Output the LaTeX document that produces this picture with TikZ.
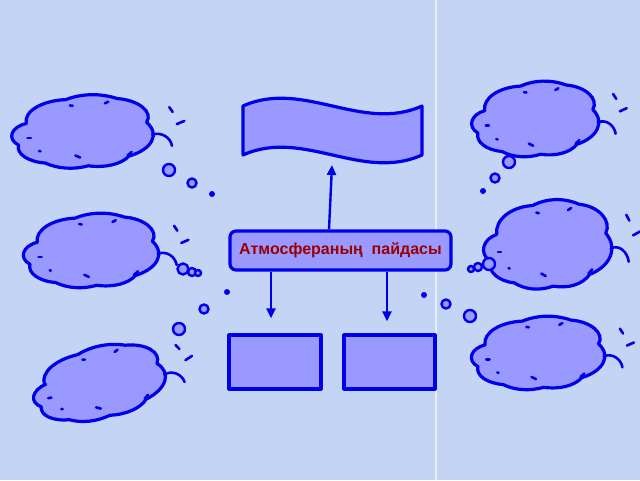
\documentclass[tikz,border=0pt]{standalone}
\usepackage{fontspec}
\setmainfont{Liberation Sans}
\usetikzlibrary{arrows.meta}
\definecolor{bg}{RGB}{196,212,245}
\definecolor{edge}{RGB}{0,0,235}
\definecolor{puff}{RGB}{153,153,255}
\definecolor{title}{RGB}{153,0,0}
\tikzset{
  boxline/.style={draw=edge, fill=puff, line width=3.2pt, line join=round},
  plainbox/.style={boxline, rectangle, inner sep=0pt},
  mainbox/.style={boxline, rectangle, rounded corners=6pt, minimum width=221, minimum height=39, text=title, font=\fontsize{16}{19}\selectfont\bfseries},
  arrowline/.style={edge, line width=2.4pt, -{Triangle[length=10pt, width=9pt]}},
  bubble/.style={circle, draw=edge, fill=puff, line width=2.4pt, inner sep=0pt},
  dot/.style={circle, fill=edge, inner sep=0pt},
  mark line/.style={edge, line width=2.6pt, line cap=round},
  thought/.pic={
    \draw[boxline] (-0.86,-0.25) to[bend left=45] (-0.28,-0.94) to[bend left=35] (0.47,-0.97)
      to[bend left=50] (0.90,-0.28) to[bend left=45] (0.64,0.70) to[bend left=40] (0.05,0.98)
      to[bend left=35] (-0.58,0.90) to[bend left=45] (-0.97,0.38) to[bend left=55] cycle;
    % tail and little marks
    \draw[mark line] (0.98,0.08) .. controls (1.12,-0.02) and (1.25,0.17) .. (1.27,0.40);
    \draw[mark line] (1.23,-0.72) -- (1.28,-0.58);
    \draw[mark line] (1.34,-0.23) -- (1.45,-0.32);
    \draw[mark line] (-0.22,-0.77) -- (-0.18,-0.76);
    \draw[mark line] (0.29,-0.83) -- (0.34,-0.88);
    \draw[mark line] (-0.84,0.17) -- (-0.79,0.17);
    \draw[mark line] (-0.67,0.55) -- (-0.65,0.56);
    \draw[mark line] (-0.14,0.68) -- (-0.07,0.74);
    \draw[mark line] (0.62,0.68) -- (0.68,0.58);
  }
}
\begin{document}
\begin{tikzpicture}[x=1pt, y=-1pt]
\fill[bg] (0,0) rectangle (640,480);
\useasboundingbox (0,0) rectangle (640,480);
\draw[white, opacity=0.6, line width=1.5pt] (436,0) -- (436,480);

% banner
\draw[boxline] (243,106) .. controls (303,79) and (362,133) .. (422,106) -- (422,155)
  .. controls (362,182) and (303,128) .. (243,155) -- cycle;
\coordinate (bannertip) at (332,165);

\node[mainbox] (main) at (340.5,250.5) {Атмосфераның\ \ пайдасы};
\node[plainbox, minimum width=92, minimum height=54] (boxa) at (275,362) {};
\node[plainbox, minimum width=91, minimum height=54] (boxb) at (389.5,362) {};

\draw[arrowline] ([xshift=-11.5pt]main.north) -- (bannertip);
\draw[arrowline] ([xshift=-69.5pt]main.south) -- ([xshift=-4pt, yshift=15pt]boxa.north);
\draw[arrowline] ([xshift=46.5pt]main.south) -- ([xshift=-2.5pt, yshift=12pt]boxb.north);

% clouds
\pic[shift={(85,132)}, xscale=68.5, yscale=34.5] {thought};
\pic[shift={(93.5,251)}, xscale=65.5, yscale=35] {thought};
\pic[shift={(101,383)}, rotate=10, xscale=65, yscale=34] {thought};
\pic[shift={(537.5,119.5)}, xscale=61.5, yscale=35.5] {thought};
\pic[shift={(550,245)}, xscale=62, yscale=42] {thought};
\pic[shift={(540.5,353.5)}, xscale=64.5, yscale=34.5] {thought};

% bubbles
\node[bubble, minimum size=12] (tla) at (169,170) {};
\node[bubble, minimum size=9] (tlb) at (192,183) {};
\node[dot, minimum size=6] (tlc) at (212,194) {};
\node[bubble, minimum size=11] (mla) at (183,269) {};
\node[bubble, minimum size=8] (mlb) at (192,272) {};
\node[bubble, minimum size=6] (mlc) at (198,273) {};
\node[dot, minimum size=6] (bla) at (227,292) {};
\node[bubble, minimum size=9] (blb) at (204,309) {};
\node[bubble, minimum size=12] (blc) at (179,329) {};
\node[bubble, minimum size=12] (tra) at (509,162) {};
\node[bubble, minimum size=9] (trb) at (495,178) {};
\node[dot, minimum size=6] (trc) at (483,191) {};
\node[bubble, minimum size=12] (mra) at (489,264) {};
\node[bubble, minimum size=8] (mrb) at (478,267) {};
\node[bubble, minimum size=6] (mrc) at (471,269) {};
\node[bubble, minimum size=12] (bra) at (470,316) {};
\node[bubble, minimum size=9] (brb) at (446,304) {};
\node[dot, minimum size=6] (brc) at (424,295) {};
\end{tikzpicture}
\end{document}
